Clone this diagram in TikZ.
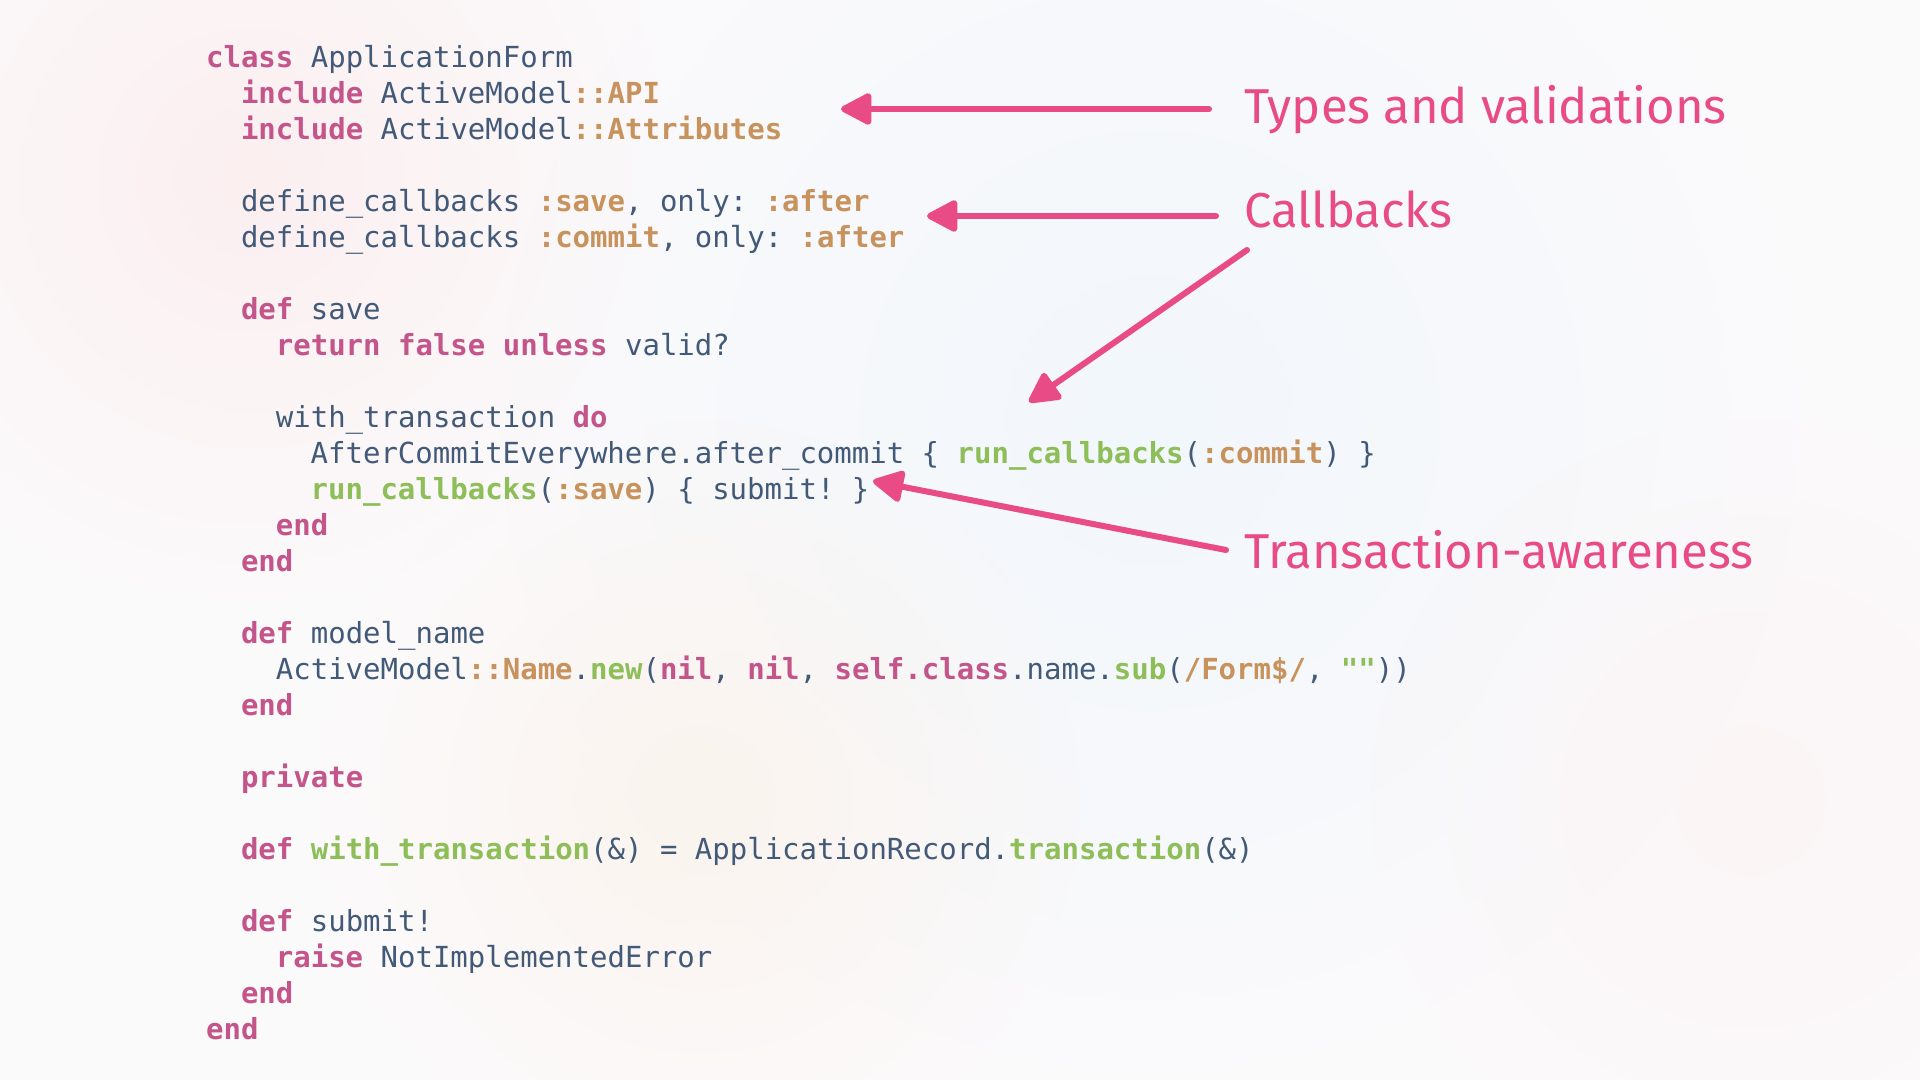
\documentclass[tikz,border=0pt]{standalone}
\usepackage{fontspec}
\setmonofont{DejaVu Sans Mono}
\newfontfamily\annfont{Fira Sans}
\usetikzlibrary{arrows.meta,fadings}
\definecolor{bgc}{HTML}{FBFAFB}
\definecolor{ckw}{HTML}{C4558A}
\definecolor{ctx}{HTML}{425A78}
\definecolor{csy}{HTML}{C8925C}
\definecolor{cfn}{HTML}{8DBE58}
\definecolor{cann}{HTML}{E84B86}
\newcommand\Kw[1]{{\bfseries\color{ckw}#1}}
\newcommand\Tx[1]{{\color{ctx}#1}}
\newcommand\Sy[1]{{\bfseries\color{csy}#1}}
\newcommand\Fn[1]{{\bfseries\color{cfn}#1}}
\tikzfading[name=softglow, inner color=transparent!0, outer color=transparent!100]
\tikzset{
  code/.style={anchor=base west, inner sep=0pt, font=\ttfamily\fontsize{14.5}{18}\selectfont, text=ctx},
  ann/.style={anchor=base west, inner sep=0pt, font=\annfont\fontsize{24.5}{28}\selectfont, text=cann},
  arr/.style={draw=cann, line width=3pt, line cap=round, -{Triangle[length=17pt,width=17pt,round]}},
  glow/.style={path fading=softglow},
}
\begin{document}
\begin{tikzpicture}[x=0.5pt,y=-0.5pt]
\useasboundingbox (0,0) rectangle (1920,1080);
\fill[bgc] (0,0) rectangle (1920,1080);
\fill[pink!18!bgc, glow] (250,180) circle (420);
\fill[cyan!4!bgc, glow] (1150,420) circle (650);
\fill[orange!5!bgc, glow] (700,800) circle (380);
\fill[pink!9!bgc, glow] (1750,800) circle (380);
% code lines: x0 = 205.7, char = 17.44, y = 67.6 + 36 i
\node[code] (l0)  at (205.7,67.6)  {\Kw{class} \Tx{ApplicationForm}};
\node[code] (l1)  at (240.6,103.6) {\Kw{include} \Tx{ActiveModel}\Sy{::API}};
\node[code] (l2)  at (240.6,139.6) {\Kw{include} \Tx{ActiveModel}\Sy{::Attributes}};
\node[code] (l4)  at (240.6,211.6) {\Tx{define\_callbacks} \Sy{:save}\Tx{, only:} \Sy{:after}};
\node[code] (l5)  at (240.6,247.6) {\Tx{define\_callbacks} \Sy{:commit}\Tx{, only:} \Sy{:after}};
\node[code] (l7)  at (240.6,319.6) {\Kw{def} \Tx{save}};
\node[code] (l8)  at (275.5,355.6) {\Kw{return false unless} \Tx{valid?}};
\node[code] (l10) at (275.5,427.6) {\Tx{with\_transaction} \Kw{do}};
\node[code] (l11) at (310.3,463.6) {\Tx{AfterCommitEverywhere.after\_commit \{} \Fn{run\_callbacks}\Tx{(}\Sy{:commit}\Tx{) \}}};
\node[code] (l12) at (310.3,499.6) {\Fn{run\_callbacks}\Tx{(}\Sy{:save}\Tx{) \{ submit! \}}};
\node[code] (l13) at (275.5,535.6) {\Kw{end}};
\node[code] (l14) at (240.6,571.6) {\Kw{end}};
\node[code] (l16) at (240.6,643.6) {\Kw{def} \Tx{model\_name}};
\node[code] (l17) at (275.5,679.6) {\Tx{ActiveModel}\Sy{::Name}\Tx{.}\Fn{new}\Tx{(}\Kw{nil}\Tx{,} \Kw{nil}\Tx{,} \Kw{self.class}\Tx{.name.}\Fn{sub}\Tx{(}\Sy{/Form\$/}\Tx{,} \Fn{""}\Tx{))}};
\node[code] (l18) at (240.6,715.6) {\Kw{end}};
\node[code] (l20) at (240.6,787.6) {\Kw{private}};
\node[code] (l22) at (240.6,859.6) {\Kw{def} \Fn{with\_transaction}\Tx{(\&) = ApplicationRecord.}\Fn{transaction}\Tx{(\&)}};
\node[code] (l24) at (240.6,931.6) {\Kw{def} \Tx{submit!}};
\node[code] (l25) at (275.5,967.6) {\Kw{raise} \Tx{NotImplementedError}};
\node[code] (l26) at (240.6,1003.6) {\Kw{end}};
\node[code] (l27) at (205.7,1039.6) {\Kw{end}};
% annotations
\node[ann] (types) at (1244,124) {Types and validations};
\node[ann] (cb)    at (1244,228) {Callbacks};
\node[ann] (ta)    at (1244,568) {Transaction-awareness};
% arrow ends
\coordinate (s1) at (1209,109); \coordinate (t1) at (841,109);
\coordinate (s2) at (1216,216); \coordinate (t2) at (927,216);
\coordinate (s3) at (1247,250); \coordinate (t3) at (1029,402);
\coordinate (s4) at (1226,550); \coordinate (t4) at (873,481);
\draw[arr] (s1) -- (t1);
\draw[arr] (s2) -- (t2);
\draw[arr] (s3) -- (t3);
\draw[arr] (s4) -- (t4);
\end{tikzpicture}
\end{document}
